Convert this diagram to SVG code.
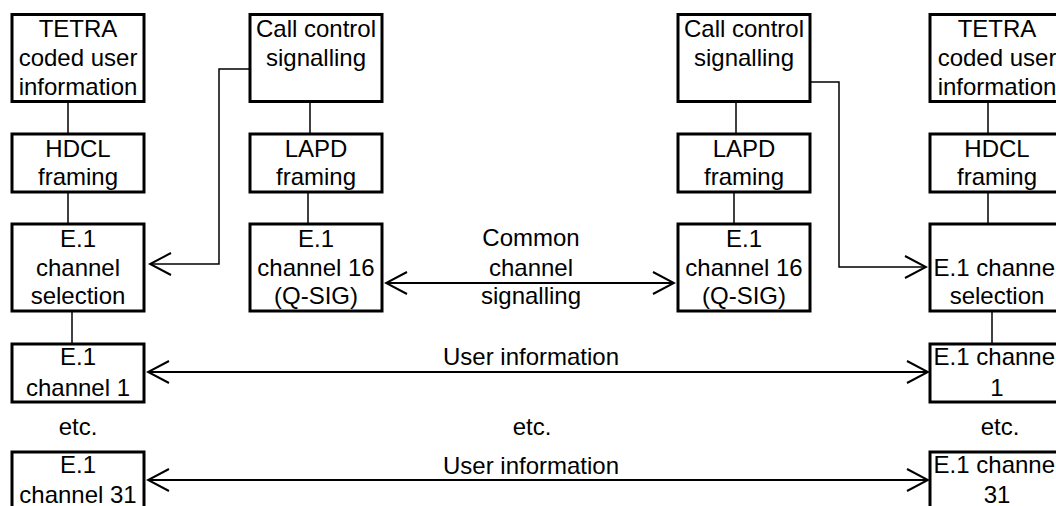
<svg xmlns="http://www.w3.org/2000/svg" width="1056" height="506" viewBox="0 0 1056 506">
<defs>
<style>
.box{fill:#fff;stroke:#000;stroke-width:3}
.ln{fill:none;stroke:#000;stroke-width:1.5}
.ar{fill:none;stroke:#000;stroke-width:2}
text{font-family:"Liberation Sans",Arial,sans-serif;font-size:24px;fill:#000;text-anchor:middle}
</style>
<marker id="ah" viewBox="0 0 24 24" markerWidth="24" markerHeight="24" refX="22" refY="12" orient="auto-start-reverse" markerUnits="userSpaceOnUse">
<path d="M1,1 L22,12 L1,23" fill="none" stroke="#000" stroke-width="2"/>
</marker>
</defs>
<rect width="1056" height="506" fill="#fff"/>
<g id="connectors">
<line class="ln" x1="68" y1="102" x2="68" y2="134"/>
<line class="ln" x1="68" y1="192" x2="68" y2="224"/>
<line class="ln" x1="72" y1="311" x2="72" y2="344"/>
<line class="ln" x1="310" y1="102" x2="310" y2="134"/>
<line class="ln" x1="308" y1="192" x2="308" y2="224"/>
<line class="ln" x1="736" y1="102" x2="736" y2="134"/>
<line class="ln" x1="734" y1="192" x2="734" y2="224"/>
<line class="ln" x1="988" y1="102" x2="988" y2="134"/>
<line class="ln" x1="988" y1="192" x2="988" y2="224"/>
<line class="ln" x1="992" y1="311" x2="992" y2="344"/>
<path class="ln" d="M250,69 H219 V264 H150" marker-end="url(#ah)"/>
<path class="ln" d="M810,82 H839 V267 H926" marker-end="url(#ah)"/>
<line class="ar" x1="386" y1="283" x2="674" y2="283" marker-start="url(#ah)" marker-end="url(#ah)"/>
<line class="ar" x1="148" y1="372" x2="928" y2="372" marker-start="url(#ah)" marker-end="url(#ah)"/>
<line class="ar" x1="148" y1="480" x2="928" y2="480" marker-start="url(#ah)" marker-end="url(#ah)"/>
</g>
<g id="tetra-left"><rect class="box" x="12" y="14.5" width="132" height="87"/>
<text x="78" y="37">TETRA</text><text x="78" y="66">coded user</text><text x="78" y="95">information</text></g>
<g id="hdcl-left"><rect class="box" x="12" y="134" width="132" height="58"/>
<text x="78" y="157">HDCL</text><text x="78" y="185">framing</text></g>
<g id="selection-left"><rect class="box" x="12" y="224" width="132" height="87"/>
<text x="78" y="247">E.1</text><text x="78" y="276">channel</text><text x="78" y="304">selection</text></g>
<g id="ch1-left"><rect class="box" x="12" y="344" width="132" height="58"/>
<text x="78" y="365">E.1</text><text x="78" y="396">channel 1</text></g>
<g id="ch31-left"><rect class="box" x="12" y="452" width="132" height="70"/>
<text x="78" y="473">E.1</text><text x="78" y="503">channel 31</text></g>
<g id="call-left"><rect class="box" x="250" y="14.5" width="132" height="87"/>
<text x="316" y="37">Call control</text><text x="316" y="66">signalling</text></g>
<g id="lapd-left"><rect class="box" x="250" y="134" width="132" height="58"/>
<text x="316" y="157">LAPD</text><text x="316" y="185">framing</text></g>
<g id="ch16-left"><rect class="box" x="250" y="224" width="132" height="87"/>
<text x="316" y="247">E.1</text><text x="316" y="276">channel 16</text><text x="316" y="304">(Q-SIG)</text></g>
<g id="call-right"><rect class="box" x="678" y="14.5" width="132" height="87"/>
<text x="744" y="37">Call control</text><text x="744" y="66">signalling</text></g>
<g id="lapd-right"><rect class="box" x="678" y="134" width="132" height="58"/>
<text x="744" y="157">LAPD</text><text x="744" y="185">framing</text></g>
<g id="ch16-right"><rect class="box" x="678" y="224" width="132" height="87"/>
<text x="744" y="247">E.1</text><text x="744" y="276">channel 16</text><text x="744" y="304">(Q-SIG)</text></g>
<g id="tetra-right"><rect class="box" x="930" y="14.5" width="134" height="87"/>
<text x="997" y="37">TETRA</text><text x="997" y="66">coded user</text><text x="997" y="95">information</text></g>
<g id="hdcl-right"><rect class="box" x="930" y="134" width="134" height="58"/>
<text x="997" y="157">HDCL</text><text x="997" y="185">framing</text></g>
<g id="selection-right"><rect class="box" x="930" y="224" width="134" height="87"/>
<text x="997" y="276">E.1 channel</text><text x="997" y="304">selection</text></g>
<g id="ch1-right"><rect class="box" x="930" y="344" width="134" height="58"/>
<text x="997" y="365">E.1 channel</text><text x="997" y="396">1</text></g>
<g id="ch31-right"><rect class="box" x="930" y="452" width="134" height="70"/>
<text x="997" y="473">E.1 channel</text><text x="997" y="503">31</text></g>
<g id="labels">
<text x="531" y="246">Common</text><text x="531" y="276">channel</text><text x="531" y="304">signalling</text>
<text x="531" y="365">User information</text>
<text x="531" y="474">User information</text>
<text x="78" y="435">etc.</text><text x="532" y="435">etc.</text><text x="1000" y="435">etc.</text>
</g>
</svg>
